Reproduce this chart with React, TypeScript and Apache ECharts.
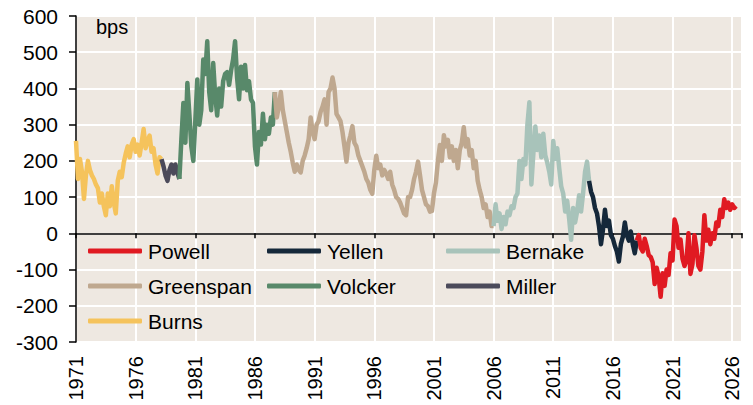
import React, { useEffect, useRef } from "react";
import * as echarts from "echarts";

// ---- data (bps), sampled every two months (1/6 year) ----
const STEP = 1 / 6;

const burnsStart = 1971.0;
const burns = [255,150,205,170,95,160,200,175,160,150,135,125,85,110,75,50,110,75,130,85,55,145,170,155,195,220,240,210,245,260,225,245,215,250,288,235,255,270,225,235,190,165,210];

const millerStart = 1978 + 1 / 6;
const miller = [205,185,160,145,175,190,165,190,168];

const volckerStart = 1979 + 4 / 6;
const volcker = [150,260,360,250,415,330,240,200,310,425,300,340,480,440,530,390,340,470,380,325,400,350,420,440,445,410,450,480,530,430,370,460,400,465,395,420,370,360,240,190,280,245,330,260,300,275,320,300];

const greenspanStart = 1987 + 4 / 6;
const greenspan = [
  390,320,
  350,390,340,310,280,250,
  225,195,170,190,175,168,
  200,215,235,260,320,280,
  260,300,310,335,350,370,
  300,390,400,430,400,330,
  320,310,280,240,198,250,
  270,296,250,240,215,200,
  185,170,150,140,120,109,
  175,214,180,190,160,175,
  165,150,170,135,120,100,
  95,85,70,55,50,100,
  100,120,150,170,198,160,
  120,100,80,75,60,62,
  110,140,200,244,200,271,
  240,258,210,240,200,230,
  180,230,250,293,240,260,
  215,230,180,200,145,120,
  100,70,80,45,60,20,
];

const bernankeStart = 2006.0;
const bernanke = [
  20,80,35,55,12,45,
  25,60,50,75,70,100,
  110,200,150,205,190,300,
  362,135,220,295,230,270,
  210,275,215,195,170,135,
  255,205,235,180,130,110,
  60,90,40,-18,70,30,
  60,105,60,110,170,198,
];

const yellenStart = 2014.0;
const yellen = [145,115,100,70,55,20,-30,10,65,20,35,-5,-15,-35,-50,-78,-30,-10,30,-5,-20,5,-30,-55];

const powellStart = 2018.0;
const powell = [
  -20,-5,-40,-50,-15,-35,
  -60,-65,-80,-140,-95,-120,
  -175,-110,-145,-100,-115,-55,
  -75,38,20,-40,-17,-70,
  -90,-75,0,-112,-85,-5,
  -40,-90,-100,-50,50,-20,
  10,-30,0,-15,30,20,
  65,45,94,70,85,65,
  80,70,75,
];

const chairs = [
  { name: "Burns", start: burnsStart, values: burns, color: "#F5C35C" },
  { name: "Miller", start: millerStart, values: miller, color: "#4B4A5A" },
  { name: "Volcker", start: volckerStart, values: volcker, color: "#58896A" },
  { name: "Greenspan", start: greenspanStart, values: greenspan, color: "#BFA88F" },
  { name: "Bernake", start: bernankeStart, values: bernanke, color: "#A8C3BA" },
  { name: "Yellen", start: yellenStart, values: yellen, color: "#15283A" },
  { name: "Powell", start: powellStart, values: powell, color: "#E01A22" },
];

const X_MIN = 1971;
const X_MAX = 2026.82;
const Y_MIN = -300;
const Y_MAX = 600;

const FONT = "'Liberation Sans', Arial, sans-serif";

export default function App() {
  const ref = useRef<HTMLDivElement>(null);

  useEffect(() => {
    if (!ref.current) return;
    const chart = echarts.init(ref.current, undefined, { renderer: "svg" });

    const pointsPerChair = chairs.map((c) => c.values.map((v, i) => [c.start + i * STEP, v]));
    const series: any[] = chairs.map((c, k) => {
      const own = pointsPerChair[k];
      const next = pointsPerChair[k + 1];
      const data = next ? [...own, next[0]] : own;
      return {
        name: c.name,
        type: "line",
        data,
        showSymbol: false,
        symbol: "none",
        lineStyle: { color: c.color, width: 4.5, join: "round" },
        itemStyle: { color: c.color },
        xAxisIndex: 0,
        yAxisIndex: 0,
      };
    });

    const legendBase = {
      orient: "vertical",
      top: 240,
      padding: 0,
      itemWidth: 54,
      itemHeight: 5,
      itemGap: 13,
      icon: "roundRect",
      selectedMode: false,
      textStyle: { fontSize: 21, color: "#000", fontFamily: FONT, lineHeight: 22, padding: [0, 0, 0, 1] },
    };

    chart.setOption({
      animation: false,
      backgroundColor: "#ffffff",
      textStyle: { fontFamily: FONT },
      grid: {
        left: 76,
        right: 11,
        top: 16,
        bottom: 63,
        show: true,
        backgroundColor: "#EEE8E1",
        borderWidth: 0,
      },
      legend: [
        { ...legendBase, left: 88, data: ["Powell", "Greenspan", "Burns"] },
        { ...legendBase, left: 267, data: ["Yellen", "Volcker"] },
        { ...legendBase, left: 446, data: ["Bernake", "Miller"] },
      ],
      xAxis: [
        {
          type: "value",
          min: X_MIN,
          max: X_MAX,
          interval: 5,
          position: "bottom",
          axisLine: { show: true, onZero: true, lineStyle: { color: "#000", width: 1.5 } },
          axisTick: { show: true, inside: false, length: 5, lineStyle: { color: "#000", width: 1.5 } },
          axisLabel: { show: false },
          splitLine: { show: true, lineStyle: { color: "#ffffff", width: 2 } },
        },
        {
          type: "value",
          min: X_MIN,
          max: X_MAX,
          interval: 5,
          position: "bottom",
          axisLine: { show: false, onZero: false },
          axisTick: { show: false },
          splitLine: { show: false },
          axisLabel: {
            show: true,
            rotate: 90,
            margin: 14,
            fontSize: 20,
            color: "#000",
            fontFamily: FONT,
            formatter: (v: number) => (Math.abs(v - Math.round(v)) < 1e-6 && (Math.round(v) - 1971) % 5 === 0 ? String(Math.round(v)) : ""),
          },
        },
      ],
      yAxis: {
        type: "value",
        min: Y_MIN,
        max: Y_MAX,
        interval: 100,
        axisLine: { show: true, lineStyle: { color: "#000", width: 1.5 } },
        axisTick: { show: true, inside: false, length: 7, lineStyle: { color: "#000", width: 1.5 } },
        axisLabel: { fontSize: 21, color: "#000", margin: 18, fontFamily: FONT },
        splitLine: { show: true, lineStyle: { color: "#ffffff", width: 2 } },
      },
      graphic: [
        {
          type: "text",
          left: 96,
          top: 17,
          style: { text: "bps", fontSize: 20, fill: "#000", fontFamily: FONT },
        },
      ],
      series,
    });

    return () => chart.dispose();
  }, []);

  return (
    <div
      ref={ref}
      style={{ position: "fixed", left: 0, top: 0, width: 753, height: 405 }}
    />
  );
}
